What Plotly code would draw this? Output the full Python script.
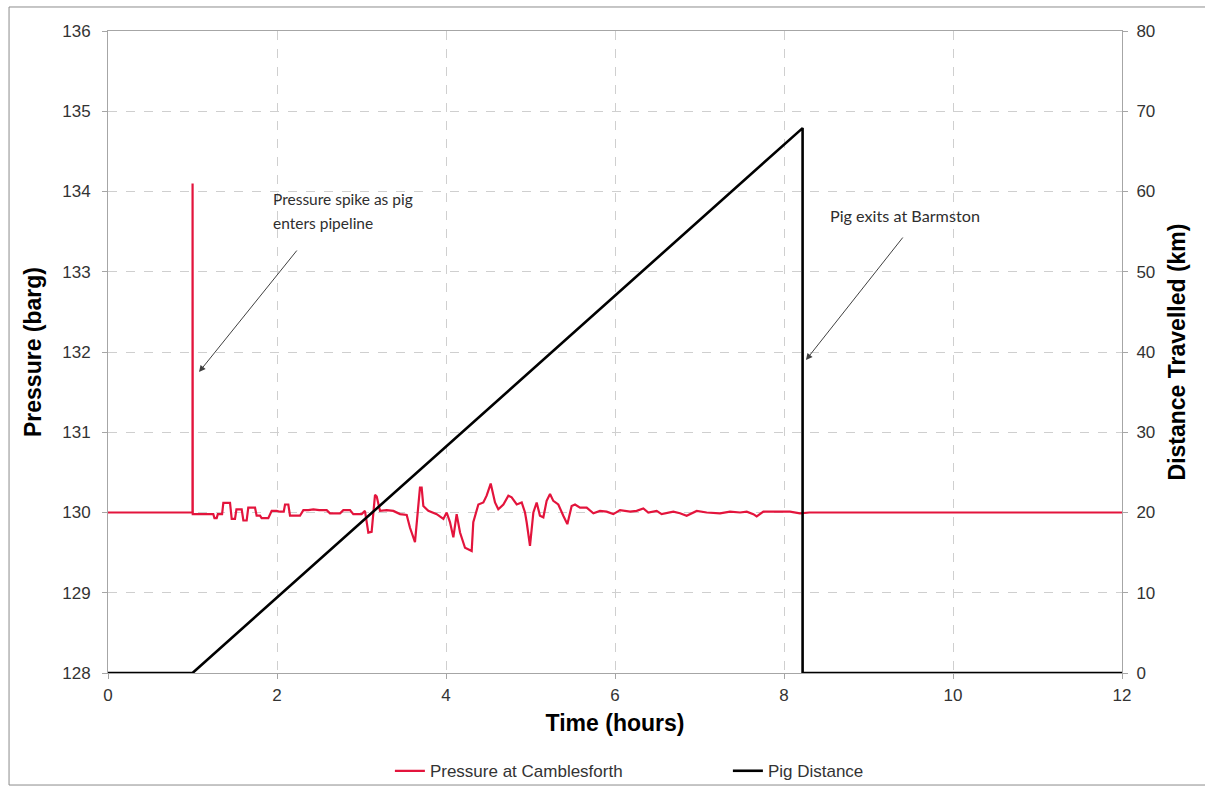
import plotly.graph_objects as go

# Pressure at Camblesforth (barg) vs time (hours)
press_time = [0, 1.000, 1.001, 1.003, 1.246, 1.26, 1.286, 1.30, 1.35, 1.365, 1.444, 1.464, 1.503, 1.52,
              1.582, 1.602, 1.641, 1.66, 1.740, 1.759, 1.799, 1.818, 1.897, 1.937, 1.996, 2.036, 2.08,
              2.095, 2.134, 2.154, 2.272, 2.312, 2.371, 2.43, 2.50, 2.588, 2.627, 2.746, 2.785, 2.864,
              2.903, 3.002, 3.041, 3.06, 3.081, 3.12, 3.16, 3.18, 3.219, 3.298, 3.377, 3.456, 3.535,
              3.574, 3.633, 3.692, 3.712, 3.732, 3.791, 3.890, 3.969, 4.008, 4.047, 4.087, 4.126, 4.166,
              4.225, 4.304, 4.323, 4.383, 4.442, 4.481, 4.529, 4.580, 4.619, 4.679, 4.738, 4.777, 4.837,
              4.896, 4.935, 4.955, 4.994, 5.034, 5.073, 5.112, 5.152, 5.191, 5.231, 5.270, 5.329, 5.388,
              5.436, 5.487, 5.527, 5.586, 5.665, 5.744, 5.822, 5.901, 5.980, 6.059, 6.178, 6.256, 6.335,
              6.394, 6.493, 6.552, 6.690, 6.769, 6.848, 6.967, 7.085, 7.243, 7.361, 7.480, 7.559, 7.637,
              7.677, 7.756, 7.953, 8.071, 8.189, 8.30, 12.0]
press_barg = [130.00, 130.00, 134.10, 129.98, 129.98, 129.93, 129.93, 129.98, 129.98, 130.12, 130.12,
              129.92, 129.92, 130.04, 130.04, 129.90, 129.90, 130.06, 130.06, 129.96, 129.96, 129.93,
              129.93, 130.02, 130.02, 130.01, 130.01, 130.10, 130.10, 129.96, 129.96, 130.03, 130.03,
              130.04, 130.03, 130.03, 129.99, 129.99, 130.03, 130.03, 129.98, 129.98, 130.02, 129.90,
              129.75, 129.76, 130.22, 130.20, 130.02, 130.03, 130.02, 129.98, 129.97, 129.81, 129.63,
              130.31, 130.31, 130.08, 130.02, 129.98, 129.92, 130.00, 129.88, 129.69, 129.98, 129.75,
              129.56, 129.52, 129.88, 130.10, 130.125, 130.21, 130.36, 130.125, 130.04, 130.10, 130.21,
              130.19, 130.10, 130.125, 130.00, 129.875, 129.585, 130.00, 130.125, 129.96, 129.94,
              130.145, 130.23, 130.145, 130.10, 129.96, 129.855, 130.08, 130.10, 130.06, 130.06, 129.99,
              130.02, 130.01, 129.98, 130.03, 130.01, 130.02, 130.05, 130.00, 130.02, 129.98, 130.01,
              129.99, 129.96, 130.02, 130.00, 129.99, 130.01, 130.00, 130.01, 129.98, 129.95, 130.01,
              130.01, 130.01, 129.99, 130.00, 130.00]

# Pig distance travelled (km)
pig_time = [0, 1.0, 8.22, 8.22, 12.0]
pig_km = [0, 0, 67.9, 0, 0]

x_ticks = [0, 2, 4, 6, 8, 10, 12]
p_ticks = [128, 129, 130, 131, 132, 133, 134, 135, 136]
d_ticks = [0, 10, 20, 30, 40, 50, 60, 70, 80]

FONT = "Liberation Sans, Arial, sans-serif"
AXC = "#a6a6a6"
GRID = "#cfcfcf"
TXT = "#333333"
TICKF = dict(size=17, color=TXT)
TITLEF = dict(size=23, color="#000000")

fig = go.Figure()
fig.add_trace(go.Scatter(x=press_time, y=press_barg, mode="lines", name="Pressure at Camblesforth",
                         line=dict(color="#e3143c", width=2.2), yaxis="y"))
fig.add_trace(go.Scatter(x=pig_time, y=pig_km, mode="lines", name="Pig Distance",
                         line=dict(color="#000000", width=2.6), yaxis="y2"))

fig.update_layout(
    width=1205, height=787,
    margin=dict(l=108, r=83, t=31, b=114, autoexpand=False),
    paper_bgcolor="white", plot_bgcolor="white",
    font=dict(family=FONT, size=17, color=TXT),
    showlegend=True,
    legend=dict(orientation="h", x=0.278, xanchor="left", y=-0.153, yanchor="middle",
                font=dict(size=17, color=TXT), entrywidth=293, entrywidthmode="pixels",
                itemwidth=30, bgcolor="rgba(0,0,0,0)"),
    xaxis=dict(range=[0, 12], tickvals=x_ticks, ticks="outside", ticklen=5, tickcolor=AXC,
               showline=True, linecolor=AXC, linewidth=1, mirror=True, ticklabelstandoff=2,
               showgrid=True, gridcolor=GRID, griddash="dash", gridwidth=1, zeroline=False,
               tickfont=TICKF,
               title=dict(text="<b>Time (hours)</b>", font=TITLEF, standoff=10)),
    yaxis=dict(range=[128, 136], tickvals=p_ticks, ticks="outside", ticklen=5, tickcolor=AXC,
               showline=True, linecolor=AXC, linewidth=1, ticklabelstandoff=8,
               showgrid=True, gridcolor=GRID, griddash="dash", gridwidth=1, zeroline=False,
               tickfont=TICKF,
               title=dict(text="<b>Pressure (barg)</b>", font=TITLEF, standoff=14)),
    yaxis2=dict(range=[0, 80], tickvals=d_ticks, overlaying="y", side="right", ticks="outside",
                ticklen=5, tickcolor=AXC, showline=True, linecolor=AXC, linewidth=1,
                ticklabelstandoff=5,
                showgrid=False, zeroline=False, tickfont=TICKF,
                title=dict(text="<b>Distance Travelled (km)</b>", font=TITLEF, standoff=14)),
)

ANN_FONT = dict(family="Lato, Open Sans, sans-serif", size=15.5, color="#2e2e2e")
fig.add_annotation(x=1.929, y=134.04, xref="x", yref="y", xanchor="left", yanchor="top",
                   text="Pressure spike as pig", showarrow=False, align="left", font=ANN_FONT)
fig.add_annotation(x=1.929, y=133.74, xref="x", yref="y", xanchor="left", yanchor="top",
                   text="enters pipeline", showarrow=False, align="left", font=ANN_FONT)
fig.add_annotation(x=8.52, y=133.84, xref="x", yref="y", xanchor="left", yanchor="top",
                   text="Pig exits at Barmston", showarrow=False, align="left",
                   font=dict(family="Lato, Open Sans, sans-serif", size=16.2, color="#2e2e2e"))
fig.add_annotation(x=1.077, y=131.75, xref="x", yref="y", text="", showarrow=True,
                   ax=99, ay=-123, arrowhead=2, arrowsize=1.3, arrowwidth=1, arrowcolor="#404040")
fig.add_annotation(x=8.26, y=131.9, xref="x", yref="y", text="", showarrow=True,
                   ax=98, ay=-124, arrowhead=2, arrowsize=1.3, arrowwidth=1, arrowcolor="#404040")

# outer chart border
fig.add_shape(type="rect", xref="paper", yref="paper", x0=-0.0976, x1=1.0848, y0=-0.1745, y1=1.0374,
              line=dict(color="#8c8c8c", width=1), fillcolor="rgba(0,0,0,0)", layer="below")

fig.write_html("out.html")
